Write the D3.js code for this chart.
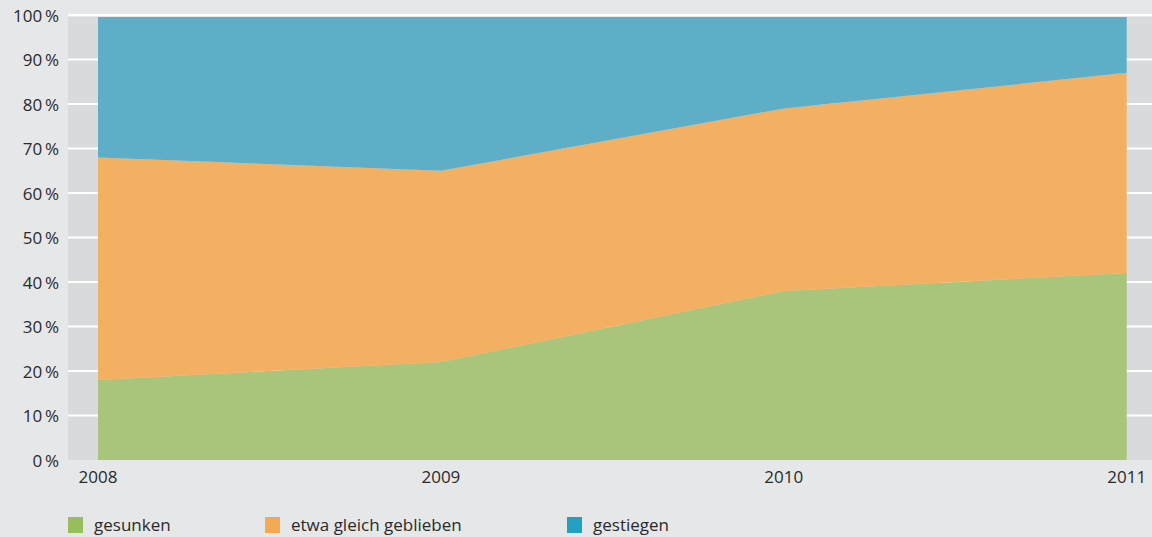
<!DOCTYPE html>
<html>
<head>
<meta charset="utf-8">
<script src="https://cdn.jsdelivr.net/npm/d3@7"></script>
<style>
  body { margin: 0; background: #e6e7e9; }
  svg text { font-family: "Open Sans", sans-serif; fill: #2a2a2a; }
</style>
</head>
<body>
<div id="chart"></div>
<script>
const years = [2008, 2009, 2010, 2011]
const gesunken = [18, 22, 38, 42]
const gleich = [50, 43, 41, 45]
const gestiegen = [32, 35, 21, 13]
const yTicks = [0, 10, 20, 30, 40, 50, 60, 70, 80, 90, 100]

const keys = ['gesunken', 'gleich', 'gestiegen']
const labels = ['gesunken', 'etwa gleich geblieben', 'gestiegen']
const areaColors = ['#a9c47b', '#f3b063', '#5faec8']
const legendColors = ['#97bd5d', '#f3aa52', '#21a0c0']

const width = 1152
const height = 537

const svg = d3.select('#chart')
    .append('svg')
    .attr('width', width)
    .attr('height', height)

const x = d3.scaleLinear()
    .domain([2008, 2011])
    .range([98, 1126.7])

const y = d3.scaleLinear()
    .domain([0, 100])
    .range([460, 15])

const panelTop = 17

svg.append('rect')
    .attr('x', 68)
    .attr('y', panelTop)
    .attr('width', width - 68)
    .attr('height', y(0) - panelTop)
    .attr('fill', '#d9dadc')

svg.append('clipPath')
    .attr('id', 'clip')
    .append('rect')
    .attr('x', 68)
    .attr('y', panelTop)
    .attr('width', width - 68)
    .attr('height', y(0) - panelTop)

// gridlines
svg.append('g')
    .selectAll('line')
    .data(yTicks.filter(d => d > 0))
    .join('line')
    .attr('x1', 68)
    .attr('x2', width)
    .attr('y1', d => y(d))
    .attr('y2', d => y(d))
    .attr('stroke', '#ffffff')
    .attr('stroke-width', 2)

const table = years.map((yr, i) => ({
    year: yr,
    gesunken: gesunken[i],
    gleich: gleich[i],
    gestiegen: gestiegen[i]
}))

const series = d3.stack().keys(keys)(table)

const area = d3.area()
    .x(d => x(d.data.year))
    .y0(d => y(d[0]))
    .y1(d => y(d[1]))

svg.append('g')
    .attr('clip-path', 'url(#clip)')
    .selectAll('path')
    .data(series)
    .join('path')
    .attr('fill', (d, i) => areaColors[i])
    .attr('d', area)

// y labels
svg.append('g')
    .selectAll('text')
    .data(yTicks)
    .join('text')
    .attr('x', 59)
    .attr('y', d => y(d) + 1)
    .attr('dy', '0.35em')
    .attr('text-anchor', 'end')
    .style('font-size', '17px')
    .text(d => d + '\u2009%')

// x labels
svg.append('g')
    .selectAll('text')
    .data(years)
    .join('text')
    .attr('x', d => x(d))
    .attr('y', 483)
    .attr('text-anchor', 'middle')
    .style('font-size', '17px')
    .text(d => d)

// legend
const legendX = [68, 265, 567]
const legend = svg.append('g')
    .selectAll('g')
    .data(labels)
    .join('g')
    .attr('transform', (d, i) => `translate(${legendX[i]},517)`)

legend.append('rect')
    .attr('width', 15)
    .attr('height', 16)
    .attr('fill', (d, i) => legendColors[i])

legend.append('text')
    .attr('x', 26)
    .attr('y', 14)
    .style('font-size', '17px')
    .text(d => d)
</script>
</body>
</html>
